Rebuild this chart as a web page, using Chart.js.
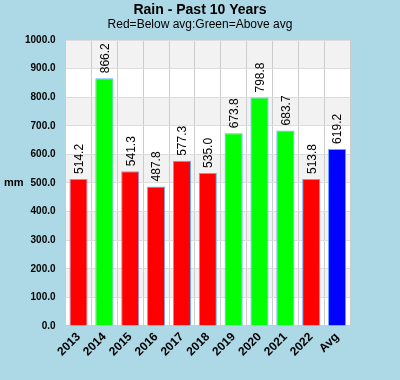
<!DOCTYPE html>
<html><head><meta charset="utf-8">
<script src="https://cdn.jsdelivr.net/npm/chart.js@4/dist/chart.umd.min.js"></script>
<style>html,body{margin:0;padding:0;background:#add8e6;}#wrap{width:400px;height:380px;}</style>
</head><body><div id="wrap"><canvas id="c" width="400" height="380"></canvas></div>
<script>
const categories = ['2013','2014','2015','2016','2017','2018','2019','2020','2021','2022','Avg'];
const rainfall = [514.2, 866.2, 541.3, 487.8, 577.3, 535.0, 673.8, 798.8, 683.7, 513.8, 619.2];
const barColors = ['#ff0000','#00ff00','#ff0000','#ff0000','#ff0000','#ff0000','#00ff00','#00ff00','#00ff00','#ff0000','#0000ff'];
const yTicks = [0,100,200,300,400,500,600,700,800,900,1000];
const titleText = 'Rain - Past 10 Years';
const subtitleText = 'Red=Below avg:Green=Above avg';
const axisTitle = 'mm';

const bandsPlugin = {
  id: 'bands',
  beforeDraw(chart) {
    const {ctx, chartArea: a, scales: {y}} = chart;
    ctx.save();
    ctx.fillStyle = '#ffffff';
    ctx.fillRect(a.left, a.top, a.right - a.left, a.bottom - a.top);
    ctx.fillStyle = '#f2f2f2';
    for (let i = 0; i < yTicks.length - 1; i++) {
      if ((yTicks.length - 2 - i) % 2 === 0) {
        const t = y.getPixelForValue(yTicks[i + 1]);
        const b = y.getPixelForValue(yTicks[i]);
        ctx.fillRect(a.left, t, a.right - a.left, b - t);
      }
    }
    ctx.restore();
  },
  afterDraw(chart) {
    const {ctx, chartArea: a, width} = chart;
    ctx.save();
    ctx.fillStyle = '#000';
    ctx.textAlign = 'center';
    ctx.textBaseline = 'middle';
    ctx.font = 'bold 14px "Liberation Sans", Arial, sans-serif';
    ctx.fillText(titleText, width / 2, 10);
    ctx.font = '12px "Liberation Sans", Arial, sans-serif';
    ctx.fillText(subtitleText, width / 2, 25);
    ctx.font = 'bold 11px "Liberation Sans", Arial, sans-serif';
    ctx.textAlign = 'left';
    ctx.fillText(axisTitle, 4, (a.top + a.bottom) / 2);
    const meta = chart.getDatasetMeta(0);
    ctx.font = '12px "Liberation Sans", Arial, sans-serif';
    meta.data.forEach((bar, i) => {
      ctx.save();
      ctx.translate(bar.x + 1, bar.y - 5);
      ctx.rotate(-Math.PI / 2);
      ctx.textAlign = 'left';
      ctx.textBaseline = 'middle';
      ctx.fillText(rainfall[i].toFixed(1), 0, 0);
      ctx.restore();
    });
    ctx.restore();
  }
};

new Chart(document.getElementById('c'), {
  type: 'bar',
  data: {
    labels: categories,
    datasets: [{
      data: rainfall,
      backgroundColor: barColors,
      borderColor: '#66aaff',
      borderWidth: 1,
      barPercentage: 0.7,
      categoryPercentage: 1.0
    }]
  },
  options: {
    responsive: false,
    animation: false,
    layout: { padding: { left: 15, right: 50, top: 40, bottom: 17 } },
    plugins: {
      legend: { display: false },
      tooltip: { enabled: false },
      title: { display: false },
      subtitle: { display: false }
    },
    scales: {
      x: {
        grid: { color: '#cccccc', offset: true, drawTicks: false },
        border: { color: '#cccccc' },
        ticks: { color: '#000', maxRotation: 45, minRotation: 45, padding: 4,
          font: { family: '"Liberation Sans", Arial, sans-serif', size: 12, weight: 'bold' } }
      },
      y: {
        min: 0, max: 1000,
        afterBuildTicks(scale) { scale.ticks = yTicks.map(v => ({ value: v })); },
        grid: { color: '#dddddd', drawTicks: false },
        border: { color: '#cccccc' },
        ticks: { color: '#000', padding: 10, callback: v => v.toFixed(1),
          font: { family: '"Liberation Sans", Arial, sans-serif', size: 10, weight: 'bold' } }
      }
    }
  },
  plugins: [bandsPlugin]
});
</script></body></html>
